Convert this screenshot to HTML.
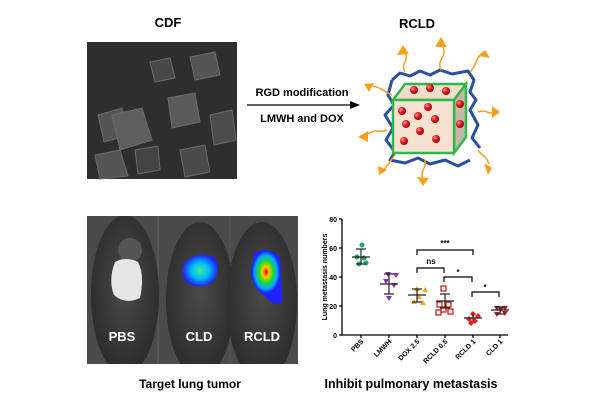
<!DOCTYPE html>
<html><head><meta charset="utf-8"><style>
html,body{margin:0;padding:0;background:#fff;}
body{width:600px;height:400px;position:relative;overflow:hidden;font-family:"Liberation Sans",Arial,sans-serif;}
</style></head><body>
<svg width="600" height="400" viewBox="0 0 600 400" xmlns="http://www.w3.org/2000/svg" font-family="Liberation Sans, Arial, sans-serif">
<defs>
<radialGradient id="ball" cx="35%" cy="35%" r="65%"><stop offset="0" stop-color="#ff9a9a"/><stop offset="0.5" stop-color="#e02020"/><stop offset="1" stop-color="#a00000"/></radialGradient>
<radialGradient id="hot" cx="50%" cy="50%" r="50%"><stop offset="0" stop-color="#e00000"/><stop offset="0.25" stop-color="#ffcc00"/><stop offset="0.5" stop-color="#22dd22"/><stop offset="0.8" stop-color="#00aaff"/><stop offset="1" stop-color="#2020ff"/></radialGradient>
<radialGradient id="cld" cx="50%" cy="50%" r="50%"><stop offset="0" stop-color="#44ee88"/><stop offset="0.5" stop-color="#00bbff"/><stop offset="1" stop-color="#2222ff"/></radialGradient>
<radialGradient id="mouse" cx="50%" cy="45%" r="55%"><stop offset="0" stop-color="#4a4a4a"/><stop offset="1" stop-color="#2c2c2c"/></radialGradient>
<clipPath id="mc"><rect x="87" y="216" width="211" height="148"/></clipPath>
</defs>
<text x="168" y="27" font-size="13" font-weight="bold" text-anchor="middle">CDF</text>
<text x="417" y="28" font-size="13" font-weight="bold" text-anchor="middle">RCLD</text>
<rect x="87" y="42" width="150" height="137" fill="#2e2e2e"/>
<g fill="#555" stroke="#6a6a6a" stroke-width="1">
<polygon points="98,115 122,108 130,135 104,142"/>
<polygon points="112,115 142,108 152,140 120,150" fill="#5e5e5e"/>
<polygon points="168,98 195,93 200,122 172,128" fill="#5a5a5a"/>
<polygon points="190,57 215,52 220,75 195,80"/>
<polygon points="150,62 170,58 175,78 155,82" fill="#484848"/>
<polygon points="95,155 120,150 128,176 100,179"/>
<polygon points="180,150 205,145 210,172 185,177" fill="#4a4a4a"/>
<polygon points="210,115 232,110 236,140 214,145" fill="#4c4c4c"/>
<polygon points="135,150 158,146 160,170 138,174" fill="#444"/>
</g>
<text x="302" y="96" font-size="11" font-weight="bold" text-anchor="middle">RGD modification</text>
<text x="302" y="122" font-size="11" font-weight="bold" text-anchor="middle">LMWH and DOX</text>
<line x1="247" y1="105" x2="352" y2="105" stroke="#000" stroke-width="1.3"/>
<polygon points="360,105 350,101 350,109" fill="#000"/>
<g stroke="#2a4fa0" stroke-width="3" fill="none" stroke-linejoin="round">
<path d="M392,80 L400,73 L410,76 L420,71 L430,75 L440,70 L452,74 L468,71 L474,80 L470,92 L476,100 L470,110 L478,125 L472,138 L480,148"/>
<path d="M392,80 L388,95 L394,105 L385,115 L393,128 L386,140 L395,152 L390,160 L405,163 L418,158 L430,164 L445,160 L458,166 L470,160"/>
</g>
<g stroke="#f5a01a" stroke-width="1.5" fill="none">
<path d="M405,72 q-3,-6 0,-10 q3,-5 -1,-12"/><path d="M441,70 q-3,-6 1,-12 q4,-6 0,-14"/><path d="M470,72 q4,-4 6,-10 q2,-6 8,-10"/>
<path d="M392,95 q-5,-2 -9,-5 q-5,-3 -10,-4"/><path d="M387,130 q-5,2 -10,1 q-5,0 -9,3"/><path d="M478,112 q5,-2 9,0 q5,2 9,0"/>
<path d="M478,150 q3,4 6,6 q4,4 5,8"/><path d="M395,155 q-3,4 -6,8 q-3,4 -6,8"/><path d="M425,160 q1,5 -2,10 q-2,6 0,10"/>
</g>
<g fill="#f5a01a">
<polygon points="403,45 397,55 409,54"/><polygon points="441,37 435,47 447,47"/><polygon points="485,50 478,56 490,58"/>
<polygon points="364,84 374,83 369,92"/><polygon points="358,137 368,131 368,142"/><polygon points="500,112 492,106 492,118"/>
<polygon points="492,168 484,163 488,175"/><polygon points="379,175 378,166 387,170"/><polygon points="423,186 417,177 429,178"/>
</g>
<polygon points="393,100 405,84 466,84 454,100" fill="#f3dccb" stroke="#2eb84a" stroke-width="2.5"/>
<polygon points="454,100 466,84 466,137 454,153" fill="#c8b6a8" stroke="#2eb84a" stroke-width="2.5"/>
<rect x="393" y="100" width="61" height="53" fill="#f6e0d0" stroke="#2eb84a" stroke-width="2.5"/>
<g fill="url(#ball)">
<circle cx="414" cy="90" r="4"/><circle cx="430" cy="88" r="4"/><circle cx="446" cy="91" r="4"/>
<circle cx="460" cy="104" r="4"/><circle cx="460" cy="124" r="4"/>
<circle cx="402" cy="111" r="4"/><circle cx="428" cy="107" r="4"/><circle cx="418" cy="116" r="4"/><circle cx="435" cy="119" r="4"/>
<circle cx="406" cy="124" r="4"/><circle cx="420" cy="131" r="4"/><circle cx="404" cy="141" r="4"/><circle cx="436" cy="139" r="4"/>
</g>
<g clip-path="url(#mc)">
<rect x="87" y="216" width="211" height="148" fill="#4a4a4a"/>
<line x1="158" y1="216" x2="158" y2="364" stroke="#606060"/>
<line x1="230" y1="216" x2="230" y2="364" stroke="#555"/>
<ellipse cx="125" cy="295" rx="34" ry="80" fill="url(#mouse)"/>
<ellipse cx="200" cy="300" rx="34" ry="78" fill="url(#mouse)"/>
<ellipse cx="262" cy="302" rx="35" ry="80" fill="url(#mouse)"/>
<ellipse cx="130" cy="250" rx="12" ry="12" fill="#555"/>
<path d="M115,262 Q125,256 138,262 Q145,275 140,298 Q125,305 114,295 Q108,280 115,262 Z" fill="#e6e6e6"/>
<path d="M185,262 Q200,250 215,258 Q222,272 212,283 Q198,290 186,282 Q180,272 185,262 Z" fill="url(#cld)"/>
<path d="M254,253 Q270,245 280,258 Q282,280 282,303 Q272,306 265,296 Q252,288 251,272 Z" fill="#2222ff"/>
<ellipse cx="266" cy="272" rx="14" ry="21" fill="url(#hot)"/>
</g>
<text x="122" y="341" font-size="13" font-weight="bold" fill="#fff" text-anchor="middle">PBS</text>
<text x="199" y="341" font-size="13" font-weight="bold" fill="#fff" text-anchor="middle">CLD</text>
<text x="262" y="341" font-size="13" font-weight="bold" fill="#fff" text-anchor="middle">RCLD</text>
<text x="190" y="388" font-size="12" font-weight="bold" text-anchor="middle">Target lung tumor</text>
<g stroke="#000" stroke-width="1.3" fill="none">
<line x1="342" y1="219" x2="342" y2="335"/><line x1="342" y1="335" x2="508" y2="335"/>
<line x1="339" y1="219" x2="342" y2="219"/><line x1="339" y1="248" x2="342" y2="248"/><line x1="339" y1="277" x2="342" y2="277"/><line x1="339" y1="306" x2="342" y2="306"/><line x1="339" y1="335" x2="342" y2="335"/>
<line x1="361" y1="335" x2="361" y2="338"/><line x1="389" y1="335" x2="389" y2="338"/><line x1="417" y1="335" x2="417" y2="338"/><line x1="445" y1="335" x2="445" y2="338"/><line x1="473" y1="335" x2="473" y2="338"/><line x1="500" y1="335" x2="500" y2="338"/>
</g>
<g font-size="7" font-weight="bold" text-anchor="end">
<text x="337" y="222">80</text><text x="337" y="251">60</text><text x="337" y="280">40</text><text x="337" y="309">20</text><text x="337" y="338">0</text>
</g>
<text transform="translate(327,277) rotate(-90)" font-size="7" font-weight="bold" text-anchor="middle">Lung metastasis numbers</text>
<g font-size="7" font-weight="bold" text-anchor="end">
<text transform="translate(364,342) rotate(-45)">PBS</text>
<text transform="translate(392,342) rotate(-45)">LMWH</text>
<text transform="translate(420,342) rotate(-45)">DOX 2.5</text>
<text transform="translate(448,342) rotate(-45)">RCLD 0.5</text>
<text transform="translate(476,342) rotate(-45)">RCLD 1</text>
<text transform="translate(503,342) rotate(-45)">CLD 1</text>
</g>
<g fill="#1aaa6a"><circle cx="362" cy="245" r="2.5"/><circle cx="357" cy="257" r="2.5"/><circle cx="364" cy="258" r="2.5"/><circle cx="359" cy="264" r="2.5"/><circle cx="366" cy="263" r="2.5"/></g>
<g fill="#8e2ab5"><polygon points="385,272 391,272 388,277"/><polygon points="393,273 399,273 396,278"/><polygon points="383,279 389,279 386,284"/><polygon points="391,283 397,283 394,288"/><polygon points="386,296 392,296 389,301"/></g>
<g fill="#f5a623"><polygon points="414,291 420,291 417,286"/><polygon points="422,292 428,292 425,287"/><polygon points="411,304 417,304 414,299"/><polygon points="420,305 426,305 423,300"/><polygon points="416,299 422,299 419,294"/></g>
<g fill="none" stroke="#c81e1e" stroke-width="1.3"><rect x="441" y="286" width="5" height="5"/><rect x="437" y="302" width="5" height="5"/><rect x="446" y="302" width="5" height="5"/><rect x="441" y="307" width="5" height="5"/><rect x="448" y="309" width="5" height="5"/><rect x="436" y="310" width="5" height="5"/></g>
<g fill="#ee1c1c"><polygon points="473,311 476,314 473,317 470,314"/><polygon points="478,313 481,316 478,319 475,316"/><polygon points="469,316 472,319 469,322 466,319"/><polygon points="475,318 478,321 475,324 472,321"/><polygon points="471,320 474,323 471,326 468,323"/></g>
<g fill="#b41e1e"><polygon points="494,306 500,306 497,311"/><polygon points="502,306 508,306 505,311"/><polygon points="498,307 504,307 501,312"/><polygon points="494,312 500,312 497,317"/><polygon points="502,311 508,311 505,316"/></g>
<g stroke="#222" stroke-width="1.2">
<line x1="361" y1="249" x2="361" y2="264"/><line x1="356" y1="249" x2="366" y2="249"/><line x1="352" y1="257" x2="370" y2="257"/><line x1="356" y1="264" x2="366" y2="264"/>
<line x1="389" y1="274" x2="389" y2="294"/><line x1="384" y1="274" x2="394" y2="274"/><line x1="380" y1="284" x2="398" y2="284"/><line x1="384" y1="294" x2="394" y2="294"/>
<line x1="417" y1="289" x2="417" y2="302"/><line x1="412" y1="289" x2="422" y2="289"/><line x1="408" y1="295" x2="426" y2="295"/><line x1="412" y1="302" x2="422" y2="302"/>
<line x1="445" y1="294" x2="445" y2="308"/><line x1="440" y1="294" x2="450" y2="294"/><line x1="436" y1="301" x2="454" y2="301"/><line x1="440" y1="308" x2="450" y2="308"/>
<line x1="464" y1="318" x2="482" y2="318"/><line x1="473" y1="314" x2="473" y2="321"/>
<line x1="500" y1="307" x2="500" y2="314"/><line x1="495" y1="307" x2="505" y2="307"/><line x1="491" y1="310" x2="509" y2="310"/><line x1="495" y1="314" x2="505" y2="314"/>
</g>
<g stroke="#000" stroke-width="1.2" fill="none">
<path d="M417,255 V250 H473 V255"/>
<path d="M417,273 V268 H444 V273"/>
<path d="M444,282 V277 H472 V282"/>
<path d="M472,297 V292 H499 V297"/>
</g>
<g font-size="8" font-weight="bold" text-anchor="middle">
<text x="445" y="246">***</text><text x="431" y="264">ns</text><text x="458" y="275">*</text><text x="485" y="290">*</text>
</g>
<text x="411" y="388" font-size="12.5" font-weight="bold" text-anchor="middle">Inhibit  pulmonary  metastasis</text>
</svg>
</body></html>
